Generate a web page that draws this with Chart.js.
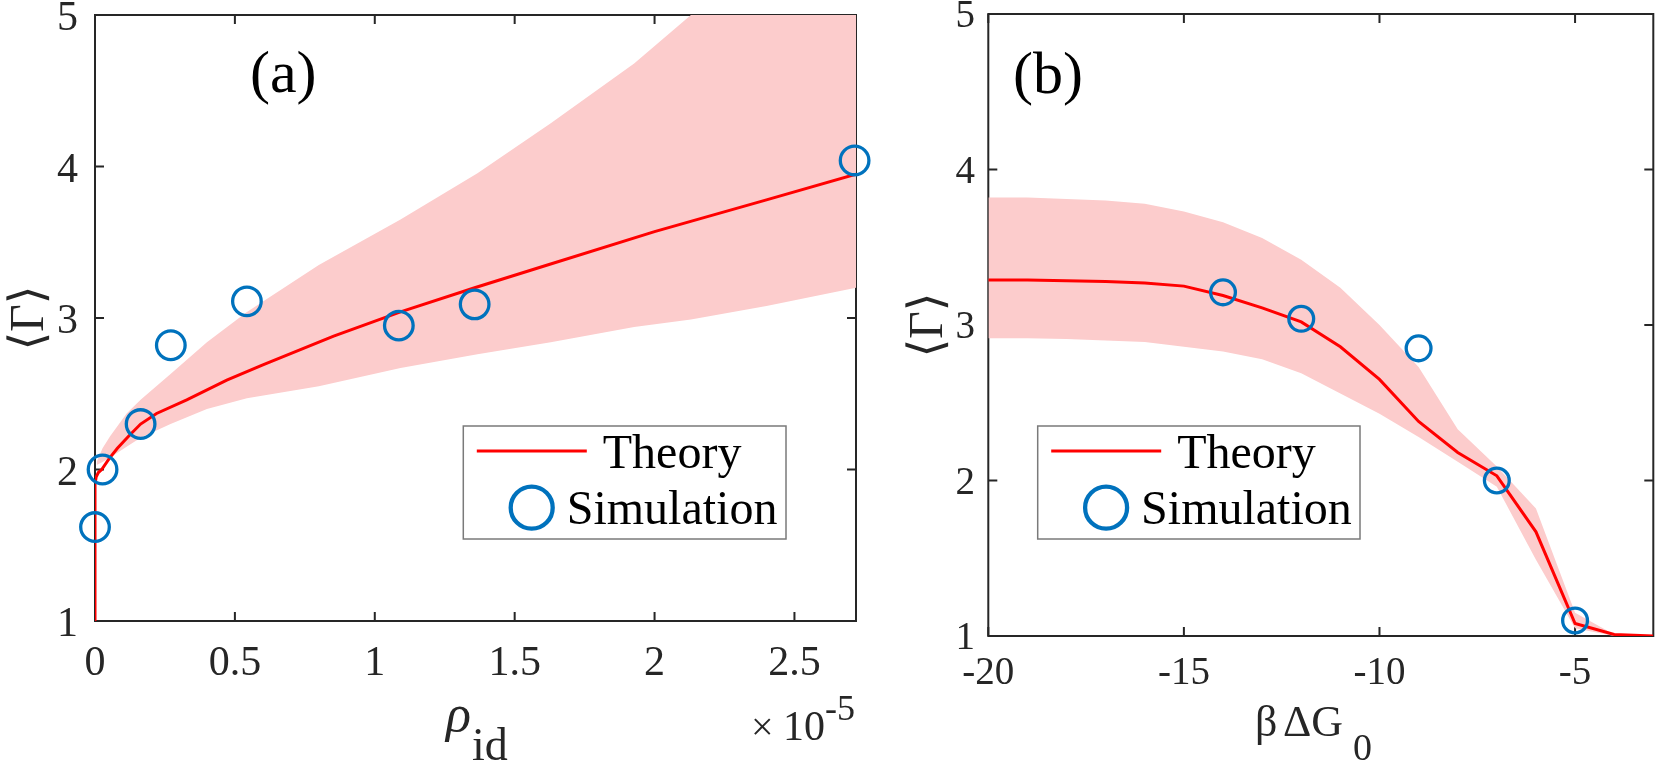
<!DOCTYPE html>
<html>
<head>
<meta charset="utf-8">
<script src="https://cdn.jsdelivr.net/npm/chart.js@4.4.0/dist/chart.umd.min.js"></script>
<style>
  html, body { margin: 0; padding: 0; background: #fff; }
  #wrap { position: relative; width: 1669px; height: 763px; overflow: hidden; }
  #wrap canvas { position: absolute; left: 0; top: -40px; }
  .warm { position: absolute; left: -2000px; top: 0; font-family: "Liberation Serif"; font-size: 40px; }
</style>
</head>
<body>
<div id="wrap">
  <canvas id="pa" width="1669" height="803"></canvas>
  <canvas id="pb" width="1669" height="803"></canvas>
</div>
<span class="warm">Theory 0.5 -20 ⟨Γ⟩ βΔG ×10 <i>ρ</i></span>
<script>
/* ---------- panel (a) data ---------- */
const xTicksA = [0, 0.5, 1, 1.5, 2, 2.5];
const yTicks = [1, 2, 3, 4, 5];

const theoryAX = [0, 0, 0.004, 0.012, 0.024, 0.05, 0.08, 0.12, 0.163, 0.22, 0.328, 0.471, 0.6, 0.853, 1.092, 1.357, 1.6, 2.0, 2.4, 2.72];
const theoryAY = [1, 1.9, 1.95, 1.98, 2.0, 2.07, 2.14, 2.22, 2.30, 2.37, 2.46, 2.59, 2.69, 2.88, 3.04, 3.20, 3.34, 3.57, 3.78, 3.95];

const bandAX = [0.006, 0.027, 0.054, 0.113, 0.163, 0.27, 0.4, 0.543, 0.8, 1.092, 1.367, 1.629, 1.927, 2.13, 2.4, 2.72];
const bandAUpper = [2.05, 2.14, 2.22, 2.37, 2.46, 2.63, 2.84, 3.04, 3.35, 3.65, 3.955, 4.285, 4.68, 5.0, 5.4, 5.9];
const bandALower = [2.03, 2.05, 2.08, 2.15, 2.21, 2.3, 2.4, 2.47, 2.55, 2.67, 2.76, 2.84, 2.94, 2.99, 3.08, 3.2];

const simAX = [0, 0.027, 0.163, 0.271, 0.543, 1.086, 1.357, 2.715];
const simAY = [1.62, 2.0, 2.3, 2.82, 3.11, 2.95, 3.09, 4.04];

/* ---------- panel (b) data ---------- */
const xTicksB = [-20, -15, -10, -5];

const theoryBX = [-20, -19, -18, -17, -16, -15, -14, -13, -12, -11, -10, -9, -8, -7, -6, -5, -4, -3];
const theoryBY = [3.29, 3.29, 3.285, 3.28, 3.27, 3.25, 3.19, 3.11, 3.02, 2.86, 2.65, 2.38, 2.18, 2.03, 1.67, 1.08, 1.01, 1.0];
const bandBUpper = [3.82, 3.82, 3.81, 3.80, 3.78, 3.73, 3.66, 3.56, 3.42, 3.24, 3.0, 2.73, 2.33, 2.09, 1.82, 1.15, 1.01, 1.0];
const bandBLower = [2.915, 2.915, 2.91, 2.90, 2.89, 2.86, 2.83, 2.78, 2.69, 2.56, 2.43, 2.28, 2.12, 1.96, 1.49, 1.05, 1.0, 1.0];

const simBX = [-14, -12, -9, -7, -5];
const simBY = [3.21, 3.04, 2.85, 2.0, 1.1];

/* ---------- styling ---------- */
const SERIF = '"Liberation Serif", "Times New Roman", "DejaVu Serif", serif';
const AXIS = '#262626';
const RED = '#ff0000';
const BLUE = '#0072bd';
const BAND = 'rgb(252,204,204)';
const OY = 40; // canvas is shifted up by this much

const pts = (xs, ys) => xs.map((x, i) => ({ x: x, y: ys[i] }));

// box around the plot with MATLAB-style inward ticks on all four sides
function framePlugin() {
  return {
    id: 'frame',
    beforeDatasetsDraw(chart) {
      const { ctx, chartArea: a, scales: { x, y } } = chart;
      ctx.save();
      ctx.strokeStyle = AXIS;
      ctx.lineWidth = 2;
      ctx.strokeRect(a.left, a.top, a.right - a.left, a.bottom - a.top);
      ctx.beginPath();
      x.ticks.forEach(t => {
        const px = x.getPixelForValue(t.value);
        ctx.moveTo(px, a.bottom); ctx.lineTo(px, a.bottom - 9);
        ctx.moveTo(px, a.top); ctx.lineTo(px, a.top + 9);
      });
      y.ticks.forEach(t => {
        const py = y.getPixelForValue(t.value);
        ctx.moveTo(a.left, py); ctx.lineTo(a.left + 9, py);
        ctx.moveTo(a.right, py); ctx.lineTo(a.right - 9, py);
      });
      ctx.stroke();
      ctx.restore();
    }
  };
}

// tick labels, axis titles and the boxed legend
function textPlugin(cfg) {
  return {
    id: 'texts',
    afterDraw(chart) {
      const ctx = chart.ctx;
      const { x, y } = chart.scales;
      ctx.save();
      ctx.fillStyle = AXIS;
      ctx.textBaseline = 'alphabetic';
      ctx.font = cfg.tickSize + 'px ' + SERIF;
      ctx.textAlign = 'center';
      x.ticks.forEach(t => {
        ctx.fillText(String(t.value), x.getPixelForValue(t.value), cfg.xBase + OY);
      });
      ctx.textAlign = 'right';
      y.ticks.forEach(t => {
        ctx.fillText(String(t.value), cfg.yRight, y.getPixelForValue(t.value) + cfg.yShift);
      });

      ctx.translate(0, OY);
      cfg.texts.forEach(t => {
        ctx.font = t.font;
        ctx.fillStyle = t.color || '#000';
        if (t.rotate) {
          ctx.save();
          ctx.translate(t.x, t.y);
          ctx.rotate(-Math.PI / 2);
          ctx.textAlign = 'center';
          ctx.textBaseline = 'middle';
          ctx.fillText(t.text, 0, 0);
          ctx.restore();
        } else {
          ctx.textAlign = 'left';
          ctx.fillText(t.text, t.x, t.y);
        }
      });

      // legend
      const L = cfg.legend;
      ctx.fillStyle = '#fff';
      ctx.fillRect(L.x, L.y, L.w, L.h);
      ctx.strokeStyle = '#7a7a7a';
      ctx.lineWidth = 1.5;
      ctx.strokeRect(L.x, L.y, L.w, L.h);
      ctx.strokeStyle = RED;
      ctx.lineWidth = 3;
      ctx.beginPath();
      ctx.moveTo(L.x + 13.5, L.y + 25);
      ctx.lineTo(L.x + 123.5, L.y + 25);
      ctx.stroke();
      ctx.strokeStyle = BLUE;
      ctx.lineWidth = 4.3;
      ctx.beginPath();
      ctx.arc(L.x + 68.4, L.y + 81.7, 21, 0, Math.PI * 2);
      ctx.stroke();
      ctx.fillStyle = '#000';
      ctx.font = '48px ' + SERIF;
      ctx.textAlign = 'left';
      ctx.fillText('Theory', L.x + 139.5, L.y + 42);
      ctx.fillText('Simulation', L.x + 103.4, L.y + 98);
      ctx.restore();
    }
  };
}

function makeChart(id, cfg) {
  return new Chart(document.getElementById(id), {
    type: 'scatter',
    data: {
      datasets: [
        { data: pts(cfg.bandX, cfg.lower), showLine: true, borderWidth: 0, pointRadius: 0, fill: false, order: 3 },
        { data: pts(cfg.bandX, cfg.upper), showLine: true, borderWidth: 0, pointRadius: 0, fill: '-1', backgroundColor: BAND, order: 3 },
        { data: pts(cfg.theoryX, cfg.theoryY), showLine: true, borderColor: RED, borderWidth: 3, pointRadius: 0, tension: 0, order: 2 },
        { data: pts(cfg.simX, cfg.simY), showLine: false, pointStyle: 'circle', pointRadius: cfg.r, pointBorderWidth: 3.3,
          borderColor: BLUE, backgroundColor: 'rgba(0,0,0,0)', clip: false, order: 1 }
      ]
    },
    options: {
      responsive: false,
      animation: false,
      events: [],
      layout: { padding: cfg.padding },
      plugins: { legend: { display: false }, tooltip: { enabled: false } },
      scales: {
        x: {
          type: 'linear', min: cfg.xmin, max: cfg.xmax,
          grid: { display: false, drawTicks: false },
          border: { display: false },
          afterBuildTicks: s => { s.ticks = cfg.xTicks.map(v => ({ value: v })); },
          afterFit: s => { s.height = cfg.xh; },
          ticks: { display: false }
        },
        y: {
          type: 'linear', min: 1, max: 5,
          grid: { display: false, drawTicks: false },
          border: { display: false },
          afterBuildTicks: s => { s.ticks = yTicks.map(v => ({ value: v })); },
          afterFit: s => { s.width = 60; },
          ticks: { display: false }
        }
      }
    },
    plugins: [framePlugin(), textPlugin(cfg)]
  });
}

function drawAll() {
  makeChart('pa', {
    bandX: bandAX, upper: bandAUpper, lower: bandALower,
    theoryX: theoryAX, theoryY: theoryAY, simX: simAX, simY: simAY, r: 14.3,
    xmin: 0, xmax: 2.72, xTicks: xTicksA,
    padding: { left: 35, right: 813, top: 15 + OY, bottom: 0 },
    xh: 142,
    tickSize: 42, xBase: 675, yRight: 78, yShift: 15,
    texts: [
      { text: '(a)', x: 250, y: 92, font: '60px ' + SERIF },
      { text: '\u27E8\u0393\u27E9', x: 30, y: 318, font: '48px ' + SERIF, color: AXIS, rotate: true },
      { text: '\u03C1', x: 446, y: 731, font: 'italic 52px ' + SERIF, color: AXIS },
      { text: 'id', x: 472, y: 760, font: '46px ' + SERIF, color: AXIS },
      { text: '\u00D7', x: 751, y: 740, font: '40px ' + SERIF, color: AXIS },
      { text: '10', x: 783, y: 740, font: '42px ' + SERIF, color: AXIS },
      { text: '-5', x: 825, y: 720, font: '36px ' + SERIF, color: AXIS }
    ],
    legend: { x: 463.3, y: 426, w: 322.7, h: 113 }
  });

  makeChart('pb', {
    bandX: theoryBX, upper: bandBUpper, lower: bandBLower,
    theoryX: theoryBX, theoryY: theoryBY, simX: simBX, simY: simBY, r: 12.4,
    xmin: -20, xmax: -3, xTicks: xTicksB,
    padding: { left: 928.3, right: 2.3, top: 14 + OY, bottom: 0 },
    xh: 127,
    tickSize: 39, xBase: 684, yRight: 975, yShift: 13,
    texts: [
      { text: '(b)', x: 1013, y: 93, font: '60px ' + SERIF },
      { text: '\u27E8\u0393\u27E9', x: 929, y: 325, font: '48px ' + SERIF, color: AXIS, rotate: true },
      { text: '\u03B2', x: 1255, y: 736, font: '44px ' + SERIF, color: AXIS },
      { text: '\u0394G', x: 1283, y: 736, font: '44px ' + SERIF, color: AXIS },
      { text: '0', x: 1353, y: 760, font: '38px ' + SERIF, color: AXIS }
    ],
    legend: { x: 1037.7, y: 426, w: 322.3, h: 113 }
  });
}

// make sure the serif face is loaded before the canvases draw text
Promise.all([
  document.fonts.load('40px "Liberation Serif"'),
  document.fonts.load('italic 40px "Liberation Serif"')
]).then(drawAll, drawAll);
</script>
</body>
</html>
